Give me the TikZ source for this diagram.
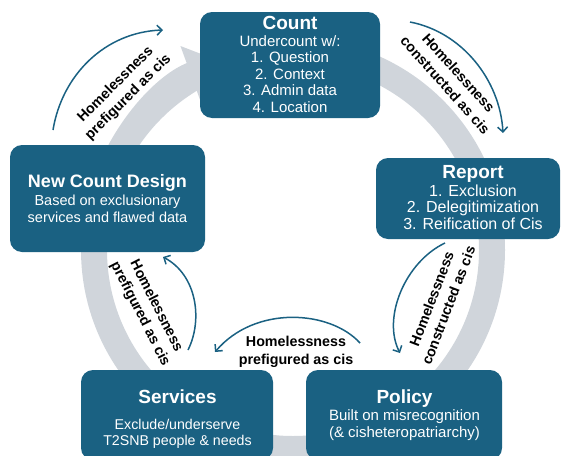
\documentclass[tikz,border=0pt]{standalone}
\usepackage{fontspec}
\setmainfont{Liberation Sans}
\usetikzlibrary{arrows.meta}
\definecolor{tealbox}{HTML}{1A6182}
\definecolor{ringgray}{HTML}{D0D5DB}
\begin{document}
\begin{tikzpicture}[x=1pt,y=-1pt,
  box/.style={fill=tealbox, rounded corners=12pt, inner sep=0pt},
  ttl/.style={text=white, anchor=base, inner sep=0pt, font=\bfseries\fontsize{19}{22}\selectfont},
  bod/.style={text=white, align=center, inner sep=0pt},
  lbl/.style={align=center, inner sep=0pt, font=\bfseries\fontsize{14.3}{18}\selectfont},
  cyc/.style={draw=tealbox, line width=1.5pt, -{Straight Barb[length=5pt,width=10pt]}},
  ring/.style={draw=ringgray, line width=26pt}]
\useasboundingbox (0,0) rectangle (564,455);
\clip (0,0) rectangle (564,455);

% grey cycle ring
\draw[ring] (293,250) circle[radius=199pt];
\draw[ring, -{Triangle[length=36pt,width=60pt]}] (293,250) ++(195:199) arc[start angle=195, end angle=250, radius=199];

% boxes
\node[box, minimum width=180pt, minimum height=106pt] (count) at (290,65) {};
\node[box, minimum width=195pt, minimum height=107pt] (ncd) at (107.5,198.5) {};
\node[box, minimum width=184pt, minimum height=81pt] (report) at (468,198.5) {};
\node[box, minimum width=192pt, minimum height=90pt] (services) at (177,415) {};
\node[box, minimum width=196pt, minimum height=90pt] (policy) at (404,415) {};

% box texts
\node[ttl] (countT) at (290,29) {Count};
\node[bod, font=\fontsize{15}{16.5}\selectfont] (countB) at (290,74) {Undercount w/:\\1. Question\\2. Context\\3. Admin data\\4. Location};

\node[ttl, font=\bfseries\fontsize{18}{22}\selectfont] (ncdT) at (107.5,187) {New Count Design};
\node[bod, font=\fontsize{14.5}{16.7}\selectfont] (ncdB) at (107.5,209) {Based on exclusionary\\services and flawed data};

\node[ttl] (reportT) at (473,178.5) {Report};
\node[bod, font=\fontsize{16}{16.5}\selectfont] (reportB) at (473,207) {1. Exclusion\\2. Delegitimization\\3. Reification of Cis};

\node[ttl] (servicesT) at (177.5,403) {Services};
\node[bod, font=\fontsize{14.2}{15.5}\selectfont] (servicesB) at (177.5,434) {Exclude/underserve\\T2SNB people \& needs};

\node[ttl] (policyT) at (404.5,403) {Policy};
\node[bod, font=\fontsize{15}{17}\selectfont] (policyB) at (404.5,425) {Built on misrecognition\\(\& cisheteropatriarchy)};

% labels
\node[lbl, rotate=45] (l1) at (122,91) {Homelessness\\prefigured as cis};
\node[lbl, rotate=-48] (l2) at (452,79) {Homelessness\\constructed as cis};
\node[lbl, rotate=69] (l3) at (440,302) {Homelessness\\constructed as cis};
\node[lbl] (l4) at (296,352) {Homelessness\\prefigured as cis};
\node[lbl, rotate=-63] (l5) at (148,310) {Homelessness\\prefigured as cis};

% thin arrows
\coordinate (a1s) at (53,130); \coordinate (a1e) at (163,30);
\coordinate (a2s) at (410,22); \coordinate (a2e) at (503,133);
\coordinate (a3s) at (445,243); \coordinate (a3e) at (400,353);
\coordinate (a4s) at (360,343); \coordinate (a4e) at (215,352);
\coordinate (a5s) at (188,350); \coordinate (a5e) at (163,257);
\draw[cyc] (a1s) .. controls (62,75) and (105,32) .. (a1e);
\draw[cyc] (a2s) .. controls (462,32) and (500,80) .. (a2e);
\draw[cyc] (a3s) .. controls (405,262) and (382,318) .. (a3e);
\draw[cyc] (a4s) .. controls (330,310) and (255,305) .. (a4e);
\draw[cyc] (a5s) .. controls (203,320) and (197,275) .. (a5e);
\end{tikzpicture}
\end{document}
